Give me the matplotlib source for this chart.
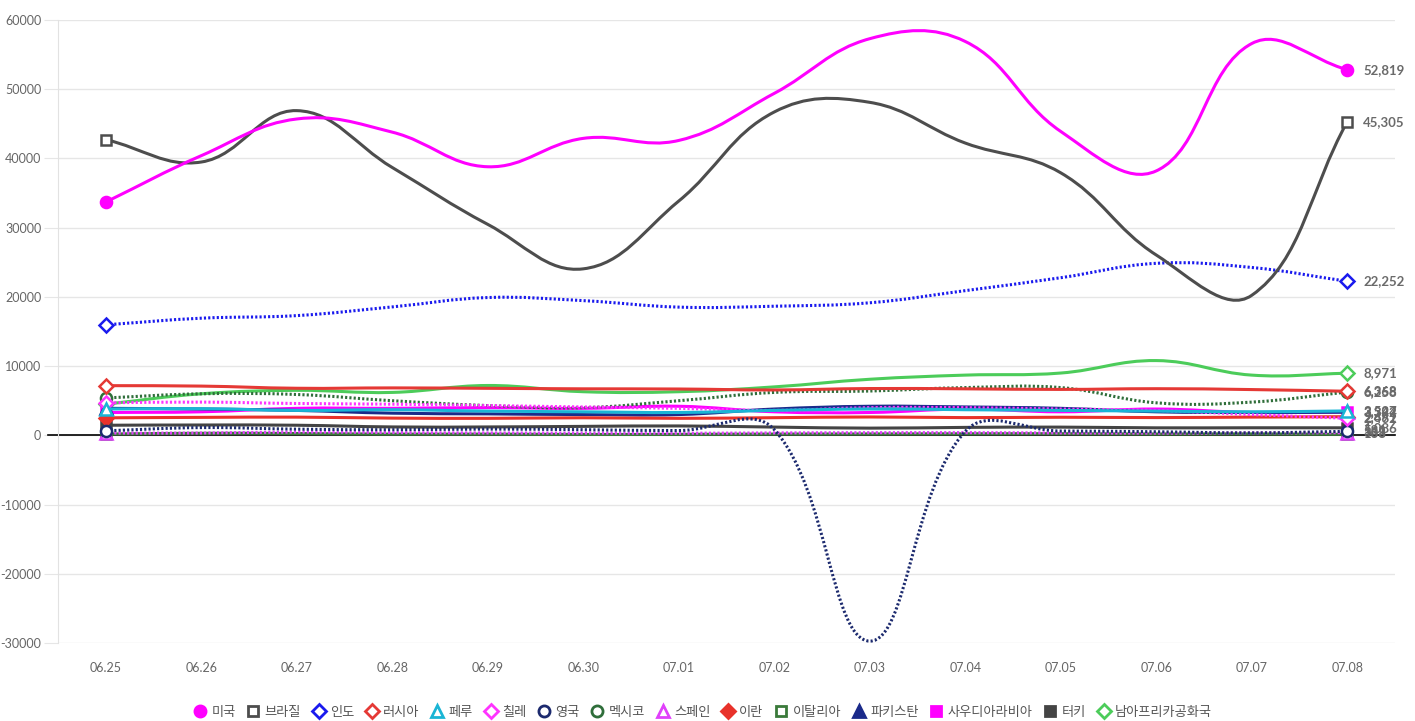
import numpy as np
import matplotlib
matplotlib.use("Agg")
import matplotlib.pyplot as plt
from matplotlib.path import Path
from matplotlib.patches import PathPatch
from matplotlib.lines import Line2D

plt.rcParams['font.family'] = ['Lato', 'Noto Sans CJK KR', 'DejaVu Sans']

dates = ["06.25", "06.26", "06.27", "06.28", "06.29", "06.30", "07.01",
         "07.02", "07.03", "07.04", "07.05", "07.06", "07.07", "07.08"]

countries = ["미국", "브라질", "인도", "러시아", "페루", "칠레", "영국", "멕시코",
             "스페인", "이란", "이탈리아", "파키스탄", "사우디아라비아", "터키", "남아프리카공화국"]

usa = [33700, 40400, 45700, 43800, 38800, 42900, 42600, 49400, 57300, 56900, 43900, 38200, 56600, 52819]
brazil = [42725, 39483, 46907, 38693, 30476, 24052, 33846, 46712, 48105, 42223, 37923, 26051, 20229, 45305]
india = [15968, 16922, 17296, 18552, 19906, 19459, 18522, 18653, 19148, 20903, 22771, 24850, 24248, 22252]
russia = [7176, 7113, 6800, 6852, 6791, 6719, 6693, 6556, 6760, 6718, 6632, 6736, 6611, 6368]
peru = [3800, 3850, 3600, 3700, 3500, 3400, 3300, 3600, 3800, 3700, 3600, 3500, 3400, 3527]
chile = [4700, 4800, 4600, 4500, 4300, 4100, 3900, 3600, 4000, 4000, 3800, 3600, 3000, 2462]
uk = [653, 1118, 890, 814, 901, 815, 689, 829, -29726, 576, 624, 516, 352, 581]
mexico = [5400, 6000, 5900, 5000, 4300, 4000, 5000, 6200, 6400, 6900, 6900, 4700, 4800, 6258]
spain = [334, 338, 475, 400, 350, 328, 302, 351, 386, 390, 350, 320, 341, 383]
iran = [2531, 2595, 2628, 2489, 2456, 2536, 2457, 2549, 2652, 2560, 2613, 2566, 2637, 2691]
italy = [190, 296, 259, 175, 174, 126, 142, 182, 201, 223, 235, 192, 208, 138]
pakistan = [3900, 3800, 3600, 3200, 3100, 3000, 3000, 3800, 4200, 4100, 3900, 3400, 3300, 3344]
saudi = [3300, 3400, 3900, 3900, 4000, 3900, 4200, 3400, 3300, 3800, 3400, 3800, 3300, 3392]
turkey = [1458, 1492, 1458, 1214, 1212, 1293, 1356, 1192, 1041, 1148, 1186, 1083, 1093, 1086]
safrica = [4500, 6000, 6500, 6200, 7200, 6300, 6300, 7000, 8100, 8700, 9000, 10800, 8700, 8971]

series = [usa, brazil, india, russia, peru, chile, uk, mexico, spain, iran,
          italy, pakistan, saudi, turkey, safrica]

colors = ["#ff00ff", "#4d4d4d", "#1a1aee", "#e53935", "#1ab5d5", "#ff33ff", "#1c2a6e",
          "#2f6e3a", "#e040fb", "#e8322a", "#3a7a3a", "#1a2a8a", "#ff00ff", "#444444", "#4ccc5a"]
markers = ["o", "s", "D", "D", "^", "D", "o", "o", "^", "D", "s", "^", "s", "s", "D"]
filled = [True, False, False, False, False, False, False, False, False, True,
          False, True, True, True, False]
dotted = [False, False, True, False, False, True, True, True, True, False,
          False, False, False, False, False]

yticks = list(range(-30000, 60001, 10000))

fig = plt.figure(figsize=(14.15, 7.21), dpi=100)
W, H = 1415, 721
ax = fig.add_axes([58 / W, 1 - 643 / H, (1395 - 58) / W, (643 - 20) / H])
x = np.arange(len(dates))
ax.set_xlim(-0.5, len(dates) - 0.5)
ax.set_ylim(-30000, 60000)
ax.set_yticks(yticks)
ax.set_yticklabels([str(v) for v in yticks])
ax.set_xticks(x)
ax.set_xticklabels(dates)
ax.grid(axis='y', color='#e6e6e6', lw=1)
ax.set_axisbelow(True)
for s in ['top', 'right', 'bottom']:
    ax.spines[s].set_visible(False)
ax.spines['left'].set_color('#e2e2e2')
ax.tick_params(axis='y', length=10, color='#e6e6e6', pad=2, labelsize=9, labelcolor='#666666')
ax.tick_params(axis='x', length=0, pad=14, labelsize=9, labelcolor='#666666')
ax.plot([-10 / 1337, 1], [0, 0], transform=ax.get_yaxis_transform(), clip_on=False,
        color='black', lw=1.2, zorder=1.5)


def chartjs_path(xs, ys, t=0.4):
    pts = ax.transData.transform(np.column_stack([xs, ys]).astype(float))
    n = len(pts)
    bb = ax.bbox
    cprev, cnext = [], []
    for i in range(n):
        prev = pts[i - 1] if i > 0 else pts[i]
        cur = pts[i]
        nxt = pts[i + 1] if i < n - 1 else pts[i]
        d01 = np.hypot(*(cur - prev))
        d12 = np.hypot(*(nxt - cur))
        s = d01 + d12
        s01 = d01 / s if s else 0
        s12 = d12 / s if s else 0
        a = cur - t * s01 * (nxt - prev)
        b = cur + t * s12 * (nxt - prev)
        for c in (a, b):
            c[1] = min(max(c[1], bb.y0), bb.y1)
        cprev.append(a)
        cnext.append(b)
    verts = [pts[0]]
    codes = [Path.MOVETO]
    for i in range(n - 1):
        verts += [cnext[i], cprev[i + 1], pts[i + 1]]
        codes += [Path.CURVE4] * 3
    verts = ax.transData.inverted().transform(np.array(verts))
    return Path(verts, codes)


handles = []
for i, (name, ys) in enumerate(zip(countries, series)):
    z = 100 - i
    ls = (0, (0.7, 0.7)) if dotted[i] else '-'
    patch = PathPatch(chartjs_path(x, ys), fill=False, edgecolor=colors[i], lw=2.2,
                      linestyle=ls, zorder=z, capstyle='butt')
    ax.add_patch(patch)
    mfc = colors[i] if filled[i] else 'white'
    ms = 8 if markers[i] != 'D' else 7.5
    if markers[i] == 's':
        ms = 7
    ax.plot([x[0], x[-1]], [ys[0], ys[-1]], ls='none', marker=markers[i], ms=ms,
            mfc=mfc, mec=colors[i], mew=1.8, zorder=z + 0.5, clip_on=False)
    ax.annotate(f"{ys[-1]:,}", (x[-1], ys[-1]), xytext=(11.5, 0), textcoords='offset points',
                ha='left', va='center', fontsize=9.5, fontweight='bold', color='#6a6a6a',
                zorder=200, annotation_clip=False)
    handles.append(Line2D([], [], ls='none', marker=markers[i], ms=ms, mfc=mfc,
                          mec=colors[i], mew=2, label=name))

fig.legend(handles=handles, loc='lower center', bbox_to_anchor=(0.497, -0.012), ncol=15,
           frameon=False, fontsize=9.5, handlelength=0.8, handletextpad=0.45,
           columnspacing=0.95, labelcolor='#555555')

fig.savefig("out.png", dpi=100)
